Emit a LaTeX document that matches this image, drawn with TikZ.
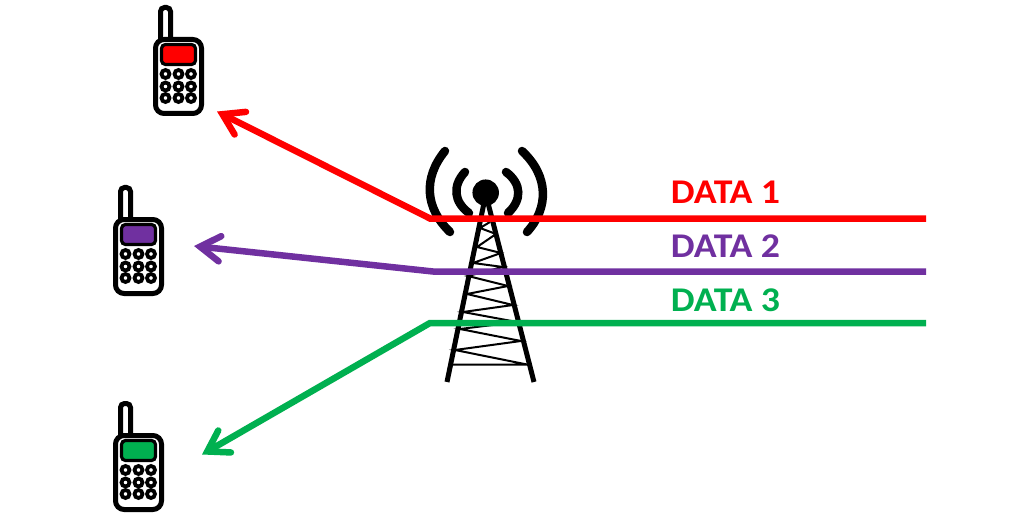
\documentclass[tikz,border=0pt]{standalone}
\usepackage{fontspec}
\setmainfont{Carlito}
\usetikzlibrary{arrows.meta}
\definecolor{dred}{HTML}{FF0000}
\definecolor{dpurple}{HTML}{7030A0}
\definecolor{dgreen}{HTML}{00B050}
\tikzset{
  x=0.75pt,y=-0.75pt,
  px/.style={line width=#1*0.75pt},
  datalink/.style={px=6.5,line join=miter,-{Straight Barb[length=15pt,width=19pt,line cap=round,line join=miter]}},
  datalabel/.style={font=\fontsize{26}{30}\selectfont\bfseries,inner sep=0pt,anchor=center,xscale=1.09,transform shape},
  leg/.style={px=5,black},
  brace/.style={px=2,black},
  wave/.style={px=8.5,black,line cap=round},
  phone/.pic={
    \draw[px=5,black,fill=white,rounded corners=3pt] (7.5,2) -- (7.5,-29.5) -- (17.5,-29.5) -- (17.5,2);
    \draw[px=5,black,fill=white,rounded corners=6.5pt] (2.5,2.5) rectangle (48.5,76.5);
    \draw[px=3.2,black,fill=#1,rounded corners=3pt] (8.5,7.5) rectangle (42.5,27.5);
    \foreach \kx in {12.5,25.5,38} \foreach \ky in {37,49.5,61}
      \draw[black,fill=white,px=3.8] (\kx,\ky) circle[radius=4];
  }
}
\begin{document}
\begin{tikzpicture}
\useasboundingbox (0,0) rectangle (1026,517);
\fill[white] (0,0) rectangle (1026,517);
% phones
\pic at (153,37) {phone=dred};
\pic at (113,217) {phone=dpurple};
\pic at (113,433) {phone=dgreen};
% tower
\coordinate (apexL) at (484,203);
\coordinate (apexR) at (488,203);
\coordinate (footL) at (447,382);
\coordinate (footR) at (534,382);
\draw[leg] (apexL) -- (footL);
\draw[leg] (apexR) -- (footR);
\draw[brace] (453,364.5) -- (527,364.5) -- (455,350) -- (521,341) -- (460,329) -- (517,322) -- (463,312) -- (513,305) -- (467,294) -- (508,286) -- (468,276) -- (503,267) -- (473,263) -- (501,253) -- (477,247) -- (496,234) -- (480,228) -- (490,222);
\node[circle,fill=black,minimum size=26.5*0.75pt,inner sep=0pt] (head) at (485.7,192.7) {};
\draw[wave] (445,151) .. controls (423,178) and (425,208) .. (450,232);
\draw[wave] (465,172) .. controls (452,186) and (454,202) .. (469,213);
\draw[wave] (527,232) .. controls (549,208) and (549,176) .. (522,151);
\draw[wave] (508,213) .. controls (522,200) and (522,184) .. (506,172);
% links
\coordinate (r0) at (926,218.5); \coordinate (r1) at (430,218.5); \coordinate (r2) at (217,111.5);
\coordinate (p0) at (926,271.5); \coordinate (p1) at (433,271.5); \coordinate (p2) at (194,246);
\coordinate (g0) at (926,323); \coordinate (g1) at (430,323); \coordinate (g2) at (202,454.5);
\draw[datalink,dred] (r0) -- (r1) -- (r2);
\draw[datalink,dpurple] (p0) -- (p1) -- (p2);
\draw[datalink,dgreen] (g0) -- (g1) -- (g2);
% labels
\node[datalabel,text=dred] (d1) at (725.5,192) {DATA 1};
\node[datalabel,text=dpurple] (d2) at (725.5,246) {DATA 2};
\node[datalabel,text=dgreen] (d3) at (725.5,300) {DATA 3};
\end{tikzpicture}
\end{document}
